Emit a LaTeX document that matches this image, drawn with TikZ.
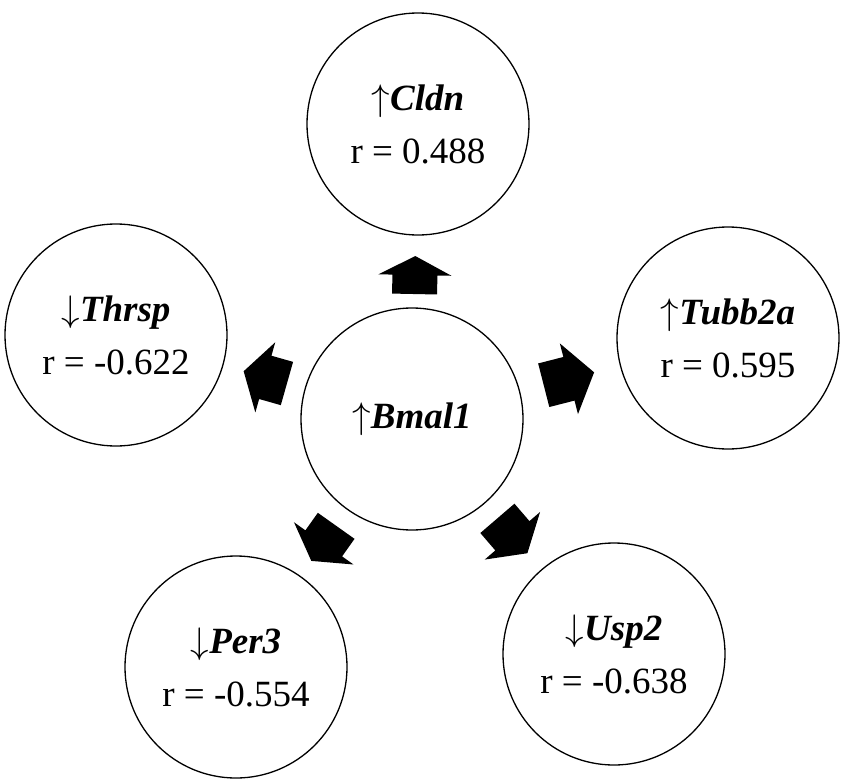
\documentclass[tikz,border=0pt]{standalone}
\usepackage{fontspec}
\setmainfont{Liberation Serif}
\usetikzlibrary{calc}
\newcommand{\blockarr}[4]{%
  \coordinate (ba) at ($(#1)!#3pt!(#2)$);
  \coordinate (ta) at ($(#1)!#4pt!(#2)$);
  \coordinate (ma) at ($(ba)!0.5!(ta)$);
  \fill[blockarrow] ($(ba)!22.5pt!90:(ta)$) -- ($(ma)!22.5pt!90:(ta)$) -- ($(ma)!36.5pt!90:(ta)$) -- (ta)
     -- ($(ma)!36.5pt!-90:(ta)$) -- ($(ma)!22.5pt!-90:(ta)$) -- ($(ba)!22.5pt!-90:(ta)$) -- cycle;
}
\newcommand{\up}{{\fontsize{10}{12}\selectfont\scalebox{3.7}{$\uparrow$}}}
\newcommand{\dn}{{\fontsize{10}{12}\selectfont\scalebox{3.7}{$\downarrow$}}}
\begin{document}
\begin{tikzpicture}[x=1pt,y=-1pt,
  gene/.style={circle, draw, line width=1.3pt, minimum size=222pt, inner sep=0pt, align=center,
    font=\fontsize{37}{53}\selectfont},
  blockarrow/.style={fill=black}]
\useasboundingbox (0,0) rectangle (846,779);
\node[gene] (c) at (412,419) {\up\textbf{\textit{Bmal1}}};
\node[gene] (cldn) at (418,124) {\up\textbf{\textit{Cldn}}\\r = 0.488};
\node[gene] (tubb) at (728,338) {\up\textbf{\textit{Tubb2a}}\\r = 0.595};
\node[gene] (thrsp) at (116,335) {\dn\textbf{\textit{Thrsp}}\\r = -0.622};
\node[gene] (per) at (236,667) {\dn\textbf{\textit{Per3}}\\r = -0.554};
\node[gene] (usp) at (614,654) {\dn\textbf{\textit{Usp2}}\\r = -0.638};
\blockarr{c}{cldn}{125}{163}
\blockarr{c}{tubb}{136}{188}
\blockarr{c}{thrsp}{130}{175}
\blockarr{c}{per}{131}{174}
\blockarr{c}{usp}{131}{177}
\end{tikzpicture}
\end{document}
